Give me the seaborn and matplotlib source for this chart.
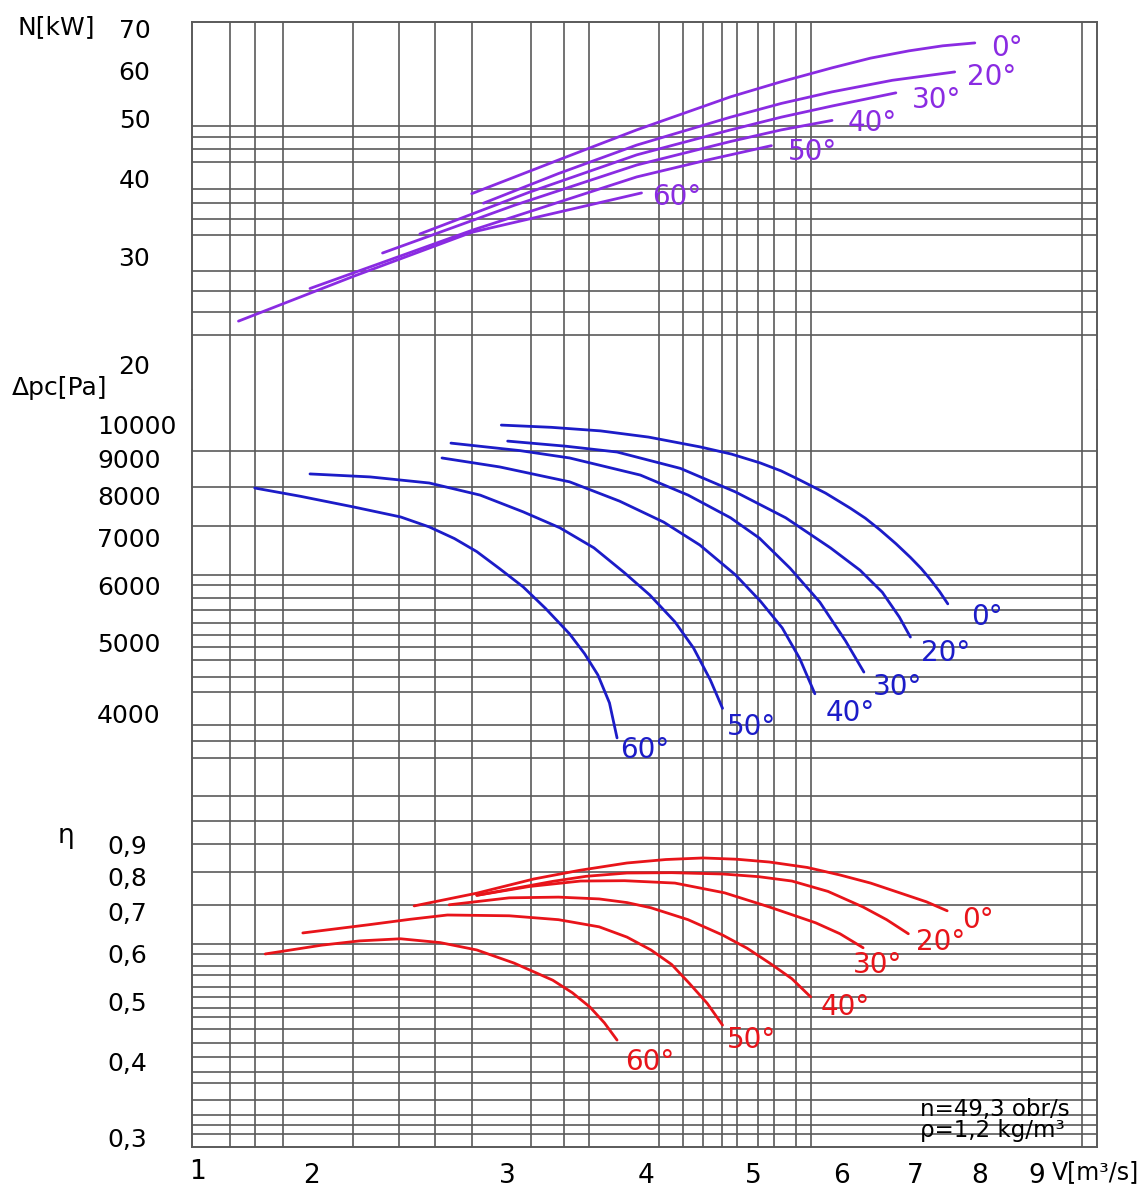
import matplotlib
matplotlib.use('Agg')
import pandas as pd
import matplotlib.pyplot as plt
import matplotlib.transforms as mtransforms
from matplotlib.ticker import NullFormatter
import seaborn as sns

angles = [0, 20, 30, 40, 50, 60]

# Potencia N [kW] vs caudal V [m3/s]
power_flow = {
    0: [2.84, 3.46, 4.00, 4.86, 5.40, 6.00, 6.50, 7.04, 7.55, 8.07],
    20: [2.91, 3.40, 4.00, 4.86, 5.40, 6.00, 6.80, 7.74],
    30: [2.55, 3.20, 4.00, 4.86, 5.40, 6.00, 6.85],
    40: [2.36, 3.10, 4.00, 4.86, 5.40, 6.00],
    50: [2.03, 2.85, 4.00, 4.61, 5.29],
    60: [1.75, 2.22, 2.84, 4.04],
}
power_kw = {
    0: [37.3, 42.8, 47.3, 53.5, 56.6, 59.6, 61.8, 63.5, 64.7, 65.4],
    20: [36.0, 40.2, 44.7, 49.6, 52.2, 54.5, 56.9, 58.7],
    30: [32.1, 37.5, 43.1, 47.3, 49.6, 51.7, 54.3],
    40: [29.9, 35.7, 41.5, 45.3, 47.3, 49.0],
    50: [26.2, 32.6, 39.7, 42.2, 44.6],
    60: [23.2, 27.4, 32.3, 37.4],
}

# Presion total dpc [Pa]
pressure_flow = {
    0: [3.02, 3.35, 3.71, 4.10, 4.56, 4.87, 5.17, 5.40, 5.61, 5.92, 6.23, 6.43, 6.63,
        6.85, 7.06, 7.22, 7.36, 7.50, 7.63],
    20: [3.06, 3.45, 3.84, 4.38, 4.91, 5.45, 5.98, 6.36, 6.66, 6.90, 7.06],
    30: [2.72, 3.14, 3.48, 4.03, 4.45, 4.86, 5.16, 5.50, 5.85, 6.17, 6.41],
    40: [2.67, 3.01, 3.48, 3.86, 4.23, 4.56, 4.91, 5.17, 5.41, 5.61, 5.79],
    50: [2.03, 2.30, 2.60, 2.89, 3.16, 3.41, 3.66, 3.90, 4.11, 4.33, 4.50, 4.66, 4.78],
    60: [1.81, 1.99, 2.22, 2.45, 2.60, 2.74, 2.87, 3.01, 3.16, 3.31, 3.48, 3.59, 3.69,
         3.78, 3.84],
}
pressure_pa = {
    0: [9870, 9800, 9690, 9500, 9210, 9000, 8750, 8530, 8290, 7950, 7580, 7340, 7070,
        6770, 6480, 6255, 6040, 5815, 5590],
    20: [9380, 9230, 9060, 8600, 7980, 7350, 6680, 6220, 5800, 5360, 5030],
    30: [9320, 9100, 8890, 8420, 7900, 7350, 6890, 6260, 5620, 4970, 4500],
    40: [8890, 8640, 8240, 7750, 7250, 6740, 6130, 5640, 5180, 4700, 4200],
    50: [8450, 8370, 8210, 7900, 7490, 7120, 6680, 6170, 5750, 5280, 4860, 4390, 4010],
    60: [8080, 7870, 7610, 7370, 7140, 6880, 6600, 6250, 5900, 5510, 5080, 4770, 4460,
         4080, 3650],
}

# Rendimiento eta
eff_flow = {
    0: [2.52, 2.87, 3.23, 3.55, 3.92, 4.25, 4.59, 4.92, 5.27, 5.70, 6.10, 6.50, 6.92,
        7.30, 7.62],
    20: [2.87, 3.36, 3.60, 3.92, 4.30, 4.78, 5.15, 5.52, 5.95, 6.40, 6.72, 7.03],
    30: [2.87, 3.20, 3.56, 3.90, 4.33, 4.80, 5.27, 5.80, 6.10, 6.40],
    40: [2.71, 3.07, 3.40, 3.70, 3.92, 4.12, 4.45, 4.78, 5.03, 5.27, 5.52, 5.74],
    50: [2.00, 2.29, 2.50, 2.70, 3.07, 3.40, 3.70, 3.92, 4.12, 4.30, 4.46, 4.63, 4.78],
    60: [1.85, 2.08, 2.25, 2.45, 2.66, 2.87, 3.10, 3.36, 3.50, 3.63, 3.74, 3.84],
}
eff_value = {
    0: [0.716, 0.751, 0.792, 0.818, 0.841, 0.852, 0.857, 0.853, 0.844, 0.827, 0.804,
        0.780, 0.751, 0.727, 0.703],
    20: [0.745, 0.785, 0.800, 0.810, 0.811, 0.807, 0.799, 0.786, 0.756, 0.713, 0.680,
         0.645],
    30: [0.745, 0.770, 0.786, 0.787, 0.780, 0.752, 0.713, 0.672, 0.645, 0.612],
    40: [0.719, 0.738, 0.740, 0.735, 0.725, 0.711, 0.680, 0.642, 0.611, 0.578, 0.545,
         0.509],
    50: [0.647, 0.667, 0.681, 0.692, 0.690, 0.680, 0.662, 0.637, 0.607, 0.575, 0.536,
         0.497, 0.458],
    60: [0.598, 0.618, 0.628, 0.633, 0.624, 0.607, 0.578, 0.542, 0.517, 0.490, 0.462,
         0.433],
}

x_ticks = [2, 3, 4, 5, 6, 7, 8, 9]
power_ticks = [20, 30, 40, 50, 60, 70]
pressure_ticks = [4000, 5000, 6000, 7000, 8000, 9000, 10000]
eff_ticks = [0.3, 0.4, 0.5, 0.6, 0.7, 0.8, 0.9]

# ---- Estilo / posiciones ---------------------------------------------------
W, H = 1146, 1187
purple, blue, red = '#8a2be2', '#1c1cc8', '#e8141a'
grid_color = '#5a5a5a'

v_grid = [1.72, 1.81, 1.92, 2.0, 2.22, 2.44, 2.63, 2.84, 3.0, 3.21, 3.44, 3.62, 4.0,
          4.19, 4.4, 4.59, 4.77, 4.93, 5.14, 5.32, 5.57, 5.74, 6.0, 7.0, 8.0, 9.0, 10.08]
n_grid = [20, 22, 24, 26, 28, 30, 32, 34, 36, 38, 40, 42, 44, 46, 48, 50, 60]
p_grid = [10000, 9100, 8100, 7150, 6130, 5930, 5700, 5480, 5260, 5060, 4880, 4670,
          4430, 4230, 4000, 3800, 3610, 3420, 3030]
e_grid = [0.985, 0.903, 0.813, 0.719, 0.621, 0.598, 0.572, 0.553, 0.529, 0.509, 0.489,
          0.472, 0.451, 0.428, 0.407, 0.384, 0.369, 0.346, 0.327, 0.315, 0.305]

power_label_pos = {0: (8.63, 64.2), 20: (8.36, 57.6), 30: (7.46, 52.9),
                   40: (6.52, 48.5), 50: (5.76, 43.6), 60: (4.35, 36.8)}
pressure_label_pos = {0: (8.28, 5360), 20: (7.59, 4780), 30: (6.87, 4290),
                      40: (6.23, 3950), 50: (5.08, 3780), 60: (4.07, 3510)}
eff_label_pos = {0: (8.13, 0.680), 20: (7.51, 0.626), 30: (6.60, 0.574),
                 40: (6.17, 0.490), 50: (5.08, 0.433), 60: (4.11, 0.399)}


def to_frame(flows, values, name):
    rows = []
    for a in angles:
        for v, y in zip(flows[a], values[a]):
            rows.append({'V': v, name: y, 'angle': f'{a}°'})
    return pd.DataFrame(rows)


df_power = to_frame(power_flow, power_kw, 'N')
df_pressure = to_frame(pressure_flow, pressure_pa, 'dpc')
df_eff = to_frame(eff_flow, eff_value, 'eta')

sns.set_style('white')
plt.rcParams['font.family'] = ['DejaVu Sans', 'Liberation Sans']
plt.rcParams['text.color'] = 'black'
plt.rcParams['xtick.color'] = 'black'
plt.rcParams['ytick.color'] = 'black'

fig = plt.figure(figsize=(W / 100, H / 100), dpi=100)


def box(top, bottom):
    return [192 / W, 1 - bottom / H, 905 / W, (bottom - top) / H]


ax_n = fig.add_axes(box(22, 390))
ax_p = fig.add_axes(box(390, 800), sharex=ax_n)
ax_e = fig.add_axes(box(800, 1147), sharex=ax_n)

sections = [
    (ax_n, df_power, 'N', purple, (17.95, 70.7), n_grid, power_label_pos),
    (ax_p, df_pressure, 'dpc', blue, (2996, 11035), p_grid, pressure_label_pos),
    (ax_e, df_eff, 'eta', red, (0.290, 1.065), e_grid, eff_label_pos),
]

for ax, df, col, color, ylim, hgrid, label_pos in sections:
    ax.set_xscale('log')
    ax.set_yscale('log')
    sns.lineplot(data=df, x='V', y=col, hue='angle', palette=[color] * len(angles),
                 estimator=None, sort=False, legend=False, linewidth=2.0, ax=ax)
    ax.set_xlim(1.589, 10.4)
    ax.set_ylim(*ylim)
    ax.set_xlabel('')
    ax.set_ylabel('')
    ax.set_xticks(v_grid, minor=True)
    ax.set_yticks(hgrid, minor=True)
    ax.xaxis.set_minor_formatter(NullFormatter())
    ax.yaxis.set_minor_formatter(NullFormatter())
    ax.grid(False)
    ax.grid(True, which='minor', color=grid_color, linewidth=1.2)
    ax.tick_params(which='both', length=0)
    for s in ax.spines.values():
        s.set_color(grid_color)
        s.set_linewidth(1.4)
    for a in angles:
        x, y = label_pos[a]
        ax.text(x, y, f'{a}°', color=color, fontsize=20, ha='center', va='center')

ax_n.spines['bottom'].set_visible(False)
ax_p.spines['top'].set_visible(False)
ax_p.spines['bottom'].set_visible(False)
ax_e.spines['top'].set_visible(False)

# ejes Y
ax_n.set_yticks(power_ticks)
ax_n.set_yticklabels([str(t) for t in power_ticks])
ax_n.tick_params(axis='y', pad=30, labelsize=18)

ax_p.set_yticks(pressure_ticks)
ax_p.set_yticklabels([str(t) for t in pressure_ticks])
ax_p.tick_params(axis='y', pad=68.4, labelsize=18)
for lab in ax_p.get_yticklabels():
    lab.set_horizontalalignment('left')

ax_e.set_yticks(eff_ticks)
ax_e.set_yticklabels([f'{t:.1f}'.replace('.', ',') for t in eff_ticks])
ax_e.tick_params(axis='y', pad=32.4, labelsize=18)

down = mtransforms.ScaledTranslation(0, -4 / 100, fig.dpi_scale_trans)
for ax in (ax_n, ax_p):
    for lab in ax.get_yticklabels():
        lab.set_transform(lab.get_transform() + down)

# eje X
ax_e.set_xticks(x_ticks)
ax_e.set_xticklabels([str(t) for t in x_ticks])
ax_e.tick_params(axis='x', pad=11.5, labelsize=19)
ax_n.tick_params(axis='x', labelbottom=False)
ax_p.tick_params(axis='x', labelbottom=False)
right = mtransforms.ScaledTranslation(9 / 100, 0, fig.dpi_scale_trans)
for lab in ax_e.get_xticklabels():
    lab.set_transform(lab.get_transform() + right)


def ftext(x, y, s, **kw):
    fig.text(x / W, 1 - y / H, s, va='center', **kw)


ftext(18, 27, 'N[kW]', fontsize=18, ha='left')
ftext(12, 388, 'Δpc[Pa]', fontsize=18, ha='left')
ftext(66, 836, 'η', fontsize=19, ha='center')
ftext(198, 1172, '1', fontsize=19, ha='center')
ftext(1052, 1172, 'V[m³/s]', fontsize=17, ha='left')
ftext(920, 1120, 'n=49,3 obr/s\nρ=1,2 kg/m³', fontsize=16.5, ha='left',
      linespacing=0.9)

fig.savefig('out.png', dpi=100, facecolor='white')
plt.close(fig)
